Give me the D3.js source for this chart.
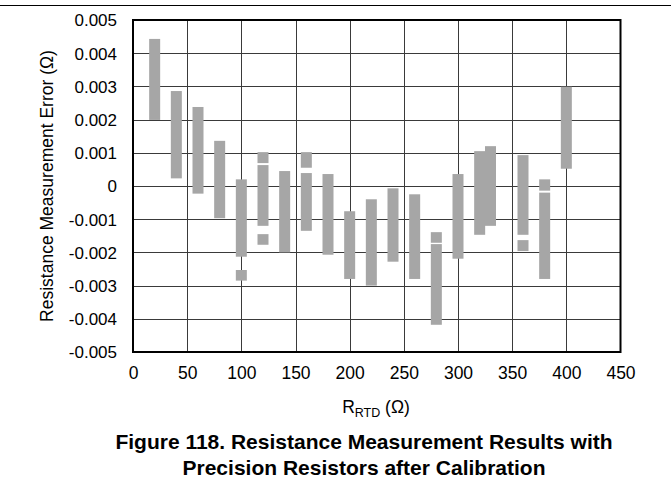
<!DOCTYPE html>
<html>
<head>
<meta charset="utf-8">
<script src="https://cdn.jsdelivr.net/npm/d3@7"></script>
<style>
  html, body { margin: 0; padding: 0; background: #fff; }
  svg text { font-family: "Liberation Sans", Arial, sans-serif; fill: #000; }
</style>
</head>
<body>
<svg id="chart" width="671" height="484"></svg>
<script>
// Each entry is one grey segment: RTD value, low and high error (Ω)
const segX    = [20, 40, 60, 80, 100, 100, 120, 120, 120, 140, 160, 160, 180, 200, 220, 240, 260, 280, 280, 300, 320, 330, 360, 360, 380, 380, 400];
const segLow  = [0.00199, 0.00023, -0.00023, -0.00097, -0.00213, -0.00285, 0.00069, -0.0012, -0.00177, -0.002, 0.00055, -0.00135, -0.00207, -0.0028, -0.003, -0.00228, -0.0028, -0.00171, -0.00418, -0.00219, -0.00147, -0.0012, -0.00147, -0.00196, -0.00014, -0.0028, 0.00052];
const segHigh = [0.00443, 0.00286, 0.00238, 0.00136, 0.0002, -0.00253, 0.00102, 0.00063, -0.00145, 0.00045, 0.00102, 0.00039, 0.00036, -0.00076, -0.0004, -0.00007, -0.00025, -0.00139, -0.00175, 0.00036, 0.00105, 0.0012, 0.00093, -0.00163, 0.0002, -0.0002, 0.00299];

const xTicks = [0, 50, 100, 150, 200, 250, 300, 350, 400, 450];
const yTicks = [-0.005, -0.004, -0.003, -0.002, -0.001, 0, 0.001, 0.002, 0.003, 0.004, 0.005];

const yTitle = "Resistance Measurement Error (Ω)";
const captionLines = ["Figure 118. Resistance Measurement Results with", "Precision Resistors after Calibration"];

const svg = d3.select("#chart");
const L = 133, R = 620.5, T = 20, B = 352;
const x = d3.scaleLinear().domain([0, 450]).range([L, R]);
const y = d3.scaleLinear().domain([-0.005, 0.005]).range([B, T]);

// top rule
svg.append("line").attr("x1", 0).attr("x2", 671).attr("y1", 5.5).attr("y2", 5.5)
  .attr("stroke", "#000").attr("stroke-width", 1.2);

// gridlines
const grid = svg.append("g").attr("stroke", "#3a3a3a").attr("stroke-width", 1);
grid.selectAll("line.v").data(xTicks.slice(1, -1)).join("line").attr("class", "v")
  .attr("x1", d => Math.round(x(d)) + 0.5).attr("x2", d => Math.round(x(d)) + 0.5)
  .attr("y1", T).attr("y2", B);
grid.selectAll("line.h").data(yTicks.slice(1, -1)).join("line").attr("class", "h")
  .attr("y1", d => Math.round(y(d)) + 0.5).attr("y2", d => Math.round(y(d)) + 0.5)
  .attr("x1", L).attr("x2", R);

// bars
const segs = segX.map((v, i) => ({x: v, lo: segLow[i], hi: segHigh[i]}));
const bw = 11;
svg.append("g").selectAll("rect").data(segs).join("rect")
  .attr("x", d => x(d.x) - bw / 2)
  .attr("width", bw)
  .attr("y", d => y(d.hi))
  .attr("height", d => y(d.lo) - y(d.hi))
  .attr("fill", "#a6a6a6");

// frame
svg.append("rect").attr("x", L).attr("y", T).attr("width", R - L).attr("height", B - T)
  .attr("fill", "none").attr("stroke", "#000").attr("stroke-width", 2);

// axes
const xAxis = d3.axisBottom(x).tickValues(xTicks).tickSize(0).tickPadding(0).tickFormat(d3.format("d"));
const gx = svg.append("g").attr("transform", `translate(0,${B})`).call(xAxis);
gx.select(".domain").remove();
gx.selectAll("text").attr("font-size", 17.5).attr("y", 27).attr("dy", 0)
  .style("font-family", "'Liberation Sans', Arial, sans-serif").attr("fill", "#000");

const yAxis = d3.axisLeft(y).tickValues(yTicks).tickSize(0).tickPadding(16)
  .tickFormat(d => d === 0 ? "0" : d.toFixed(3));
const gy = svg.append("g").attr("transform", `translate(${L},0)`).call(yAxis);
gy.select(".domain").remove();
gy.selectAll("text").attr("font-size", 17).attr("dy", "0.35em")
  .style("font-family", "'Liberation Sans', Arial, sans-serif").attr("fill", "#000");

// y title
svg.append("text")
  .attr("transform", `translate(53,${(T + B) / 2}) rotate(-90)`)
  .attr("text-anchor", "middle").attr("font-size", 17.5)
  .text(yTitle);

// x title with subscript
const xt = svg.append("text").attr("x", 376).attr("y", 413)
  .attr("text-anchor", "middle").attr("font-size", 17.5);
xt.append("tspan").text("R");
xt.append("tspan").attr("font-size", 12.5).attr("dy", 4).text("RTD");
xt.append("tspan").attr("dy", -4).text(" (Ω)");

// caption
svg.append("g").selectAll("text").data(captionLines).join("text")
  .attr("x", 364).attr("y", (d, i) => 449 + i * 25.5)
  .attr("text-anchor", "middle").attr("font-size", 21).attr("font-weight", "bold")
  .text(d => d);
</script>
</body>
</html>
